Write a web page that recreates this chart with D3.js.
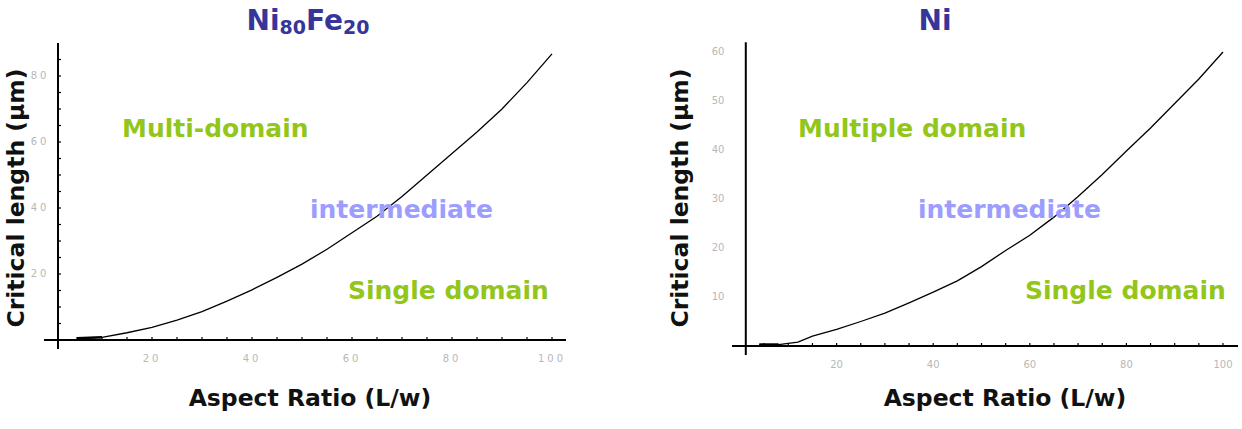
<!DOCTYPE html>
<html lang="en">
<head>
<meta charset="UTF-8">
<title>Critical length vs aspect ratio</title>
<script src="https://cdn.jsdelivr.net/npm/d3@7/dist/d3.min.js"></script>
<style>
    body, html {
        margin: 0;
        background: #fff;
    }
    svg {
        display: block;
    }
    .tick-label {
        font-family: "DejaVu Sans", sans-serif;
        font-size: 10px;
        fill: #b8b8b8;
    }
    .axis-title {
        font-family: "DejaVu Sans", sans-serif;
        font-weight: bold;
        font-size: 23.5px;
        fill: #111;
    }
    .region {
        font-family: "DejaVu Sans", sans-serif;
        font-weight: bold;
        font-size: 25px;
    }
</style>
</head>
<body>
<svg width="1242" height="429"></svg>
<script>
    // Ni80Fe20 curve (left)
    const niFeAspect = [5, 10, 15, 20, 25, 30, 35, 40, 45, 50, 55, 60, 65, 70, 75, 80, 85, 90, 95, 100];
    const niFeLength = [0.5, 0.8, 2.2, 3.8, 6.0, 8.6, 11.8, 15.2, 19.0, 23.0, 27.5, 32.5, 37.5, 43.5, 50.0, 56.5, 63.0, 70.0, 78.0, 86.7];
    // Ni curve (right)
    const niAspect = [4, 8, 12, 15, 20, 25, 30, 35, 40, 45, 50, 55, 60, 65, 70, 75, 80, 85, 90, 95, 100];
    const niLength = [0.3, 0.3, 0.8, 2.0, 3.4, 5.0, 6.7, 8.8, 11.0, 13.3, 16.2, 19.5, 22.6, 26.3, 30.5, 35.0, 39.8, 44.5, 49.5, 54.5, 60.0];

    const xTickValues = [20, 40, 60, 80, 100];
    const niFeYTicks = [20, 40, 60, 80];
    const niYTicks = [10, 20, 30, 40, 50, 60];

    const green = "#93c61b";
    const violet = "#9d9dff";
    const titleBlue = "#35359a";

    const svg = d3.select("svg");

    function drawPanel(p) {
        const g = svg.append("g");
        const x = d3.scaleLinear().domain([0, 100]).range(p.xRange);
        const y = d3.scaleLinear().domain([0, p.yMax]).range(p.yRange);
        const x0 = x(1.2), y0 = y(0);

        // minor ticks every 5 units along x
        g.selectAll(".xt").data(d3.range(5, 101, 5)).enter().append("line")
            .attr("x1", d => x(d)).attr("x2", d => x(d))
            .attr("y1", y0).attr("y2", y0 - 3)
            .attr("stroke", "#000").attr("stroke-width", 1.2);

        if (p.yMinorTicks) {
            g.selectAll(".yt").data(d3.range(5, p.yTop, 5)).enter().append("line")
                .attr("x1", x0).attr("x2", x0 + 3)
                .attr("y1", d => y(d)).attr("y2", d => y(d))
                .attr("stroke", "#000").attr("stroke-width", 1.2);
        }

        // axes
        g.append("line")
            .attr("x1", p.xAxisStart).attr("x2", p.xAxisEnd)
            .attr("y1", y0).attr("y2", y0)
            .attr("stroke", "#000").attr("stroke-width", 2);
        g.append("line")
            .attr("x1", x0).attr("x2", x0)
            .attr("y1", y(p.yTop)).attr("y2", y0 + 9)
            .attr("stroke", "#000").attr("stroke-width", 2);

        // tick labels
        g.selectAll(".xl").data(xTickValues).enter().append("text")
            .attr("class", "tick-label")
            .attr("x", d => x(d)).attr("y", y0 + 22)
            .attr("text-anchor", "middle")
            .style("letter-spacing", p.spaced ? "3px" : "0px")
            .text(d => d);
        g.selectAll(".yl").data(p.yTicks).enter().append("text")
            .attr("class", "tick-label")
            .attr("x", p.yLabelX).attr("y", d => y(d) + 3)
            .attr("text-anchor", "middle")
            .style("letter-spacing", p.spaced ? "3px" : "0px")
            .text(d => d);

        // curve
        const line = d3.line().x((d, i) => x(p.aspect[i])).y(d => y(d));
        g.append("path")
            .datum(p.length)
            .attr("d", line)
            .attr("fill", "none")
            .attr("stroke", "#000")
            .attr("stroke-width", 1.3);
        // thick flat start
        g.append("line")
            .attr("x1", x(p.aspect[0])).attr("x2", x(p.aspect[1]))
            .attr("y1", y(p.length[0])).attr("y2", y(p.length[1]))
            .attr("stroke", "#000").attr("stroke-width", 2.5);

        // title
        const t = svg.append("text")
            .attr("x", p.titleX).attr("y", 30)
            .attr("text-anchor", "middle")
            .attr("fill", titleBlue)
            .style("font-family", "'DejaVu Sans', sans-serif")
            .style("font-weight", "bold")
            .style("font-size", "28px");
        p.title.forEach(part => {
            t.append("tspan")
                .attr("dy", part.sub ? 4 : (part.back ? -4 : 0))
                .style("font-size", part.sub ? "19px" : "28px")
                .text(part.text);
        });

        // region labels
        p.regions.forEach(r => {
            svg.append("text")
                .attr("class", "region")
                .attr("x", r.x).attr("y", r.y)
                .attr("fill", r.color)
                .text(r.text);
        });

        // axis titles
        svg.append("text")
            .attr("class", "axis-title")
            .attr("x", p.xTitleX).attr("y", 406)
            .attr("text-anchor", "middle")
            .text("Aspect Ratio (L/w)");
        svg.append("text")
            .attr("class", "axis-title")
            .attr("transform", `translate(${p.yTitleX},${p.yTitleY}) rotate(-90)`)
            .attr("text-anchor", "middle")
            .text("Critical length (μm)");
    }

    drawPanel({
        aspect: niFeAspect, length: niFeLength,
        xRange: [52, 552], yMax: 80, yRange: [340, 76], yTop: 90,
        yTicks: niFeYTicks, yMinorTicks: true, spaced: true,
        xAxisStart: 44, xAxisEnd: 566, yLabelX: 40,
        title: [{text: "Ni"}, {text: "80", sub: true}, {text: "Fe", back: true}, {text: "20", sub: true}],
        titleX: 308,
        regions: [
            {text: "Multi-domain", x: 122, y: 137, color: green},
            {text: "intermediate", x: 310, y: 218, color: violet},
            {text: "Single domain", x: 348, y: 299, color: green}
        ],
        xTitleX: 310, yTitleX: 24, yTitleY: 198
    });

    drawPanel({
        aspect: niAspect, length: niLength,
        xRange: [740, 1223], yMax: 60, yRange: [346, 52], yTop: 62,
        yTicks: niYTicks, yMinorTicks: false, spaced: false,
        xAxisStart: 732, xAxisEnd: 1238, yLabelX: 718,
        title: [{text: "Ni"}],
        titleX: 935,
        regions: [
            {text: "Multiple domain", x: 798, y: 137, color: green},
            {text: "intermediate", x: 918, y: 218, color: violet},
            {text: "Single domain", x: 1025, y: 299, color: green}
        ],
        xTitleX: 1005, yTitleX: 688, yTitleY: 198
    });
</script>
</body>
</html>
